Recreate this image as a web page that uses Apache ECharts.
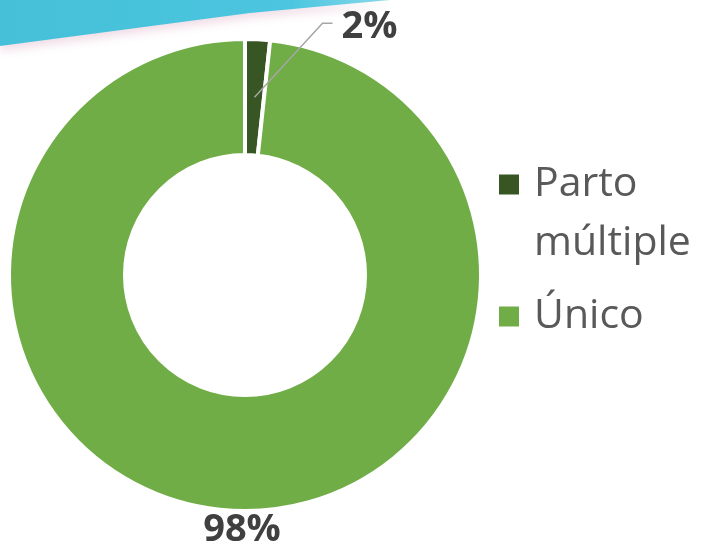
<!DOCTYPE html>
<html>
<head>
<meta charset="utf-8">
<script src="https://cdn.jsdelivr.net/npm/echarts@6/dist/echarts.min.js"></script>
<style>
  html, body { margin: 0; padding: 0; background: #fff; }
  #chart { width: 710px; height: 548px; }
</style>
</head>
<body>
<div id="chart"></div>
<script>
var categories = ['Parto múltiple', 'Único']
var values = [1.7, 98.3]
var colors = ['#375623', '#70AD47']

var chart = echarts.init(document.getElementById('chart'))

var font = '"Open Sans", "Noto Sans", sans-serif'
var cx = 245, cy = 275, r0 = 120, r1 = 236

// middle of the ring, at the middle angle of a slice
function midPoint(i) {
  var total = values.reduce(function (a, b) { return a + b }, 0)
  var before = 0
  for (var k = 0; k < i; k++) before += values[k]
  var a = (before + values[i] / 2) / total * Math.PI * 2
  var rm = (r0 + r1) / 2
  return [cx + rm * Math.sin(a), cy - rm * Math.cos(a)]
}

var labelText = {
  show: true,
  position: 'outside',
  formatter: '{d}%',
  fontFamily: font,
  fontWeight: 'bold',
  fontSize: 38,
  color: '#404040'
}

var legendText = {
  fontFamily: font,
  fontSize: 41,
  color: '#595959',
  lineHeight: 59,
  padding: [0, 0, 0, 9]
}

chart.setOption({
  backgroundColor: '#fff',
  animation: false,
  graphic: [
    {
      type: 'polygon',
      z: -1,
      shape: { points: [[0, 0], [390, 0], [250, 13], [0, 46]] },
      style: {
        fill: new echarts.graphic.LinearGradient(0, 0, 1, 0, [
          { offset: 0, color: '#45C0D8' },
          { offset: 0.75, color: '#4CC6E0' },
          { offset: 1, color: '#8AD9EA' }
        ]),
        shadowColor: 'rgba(225, 185, 205, 0.5)',
        shadowBlur: 10,
        shadowOffsetY: 5
      }
    }
  ],
  legend: [
    {
      orient: 'vertical',
      left: 497,
      top: 96,
      padding: 0,
      icon: 'rect',
      itemWidth: 22,
      itemHeight: 22,
      selectedMode: false,
      data: [categories[0]],
      // blank first line so the square sits beside "Parto"
      formatter: function (name) {
        return '\n' + name.replace(' ', '\n')
      },
      textStyle: legendText
    },
    {
      orient: 'vertical',
      left: 497,
      top: 287,
      padding: 0,
      icon: 'rect',
      itemWidth: 22,
      itemHeight: 22,
      selectedMode: false,
      data: [categories[1]],
      textStyle: legendText
    }
  ],
  series: [
    {
      type: 'pie',
      center: [cx, cy],
      radius: [r0, r1],
      startAngle: 90,
      clockwise: true,
      percentPrecision: 0,
      itemStyle: {
        borderColor: '#fff',
        borderWidth: 4
      },
      label: labelText,
      labelLine: { show: false },
      labelLayout: function (p) {
        var r = p.rect
        return {
          x: r.x + r.width / 2 - 3,
          y: r.y + r.height + 17,
          align: 'center',
          verticalAlign: 'middle'
        }
      },
      data: categories.map(function (c, i) {
        return {
          name: c,
          value: values[i],
          itemStyle: { color: colors[i] },
          label: { show: i === 1 }
        }
      })
    },
    {
      // same ring, invisible, only to carry the small slice's label above the sectors
      type: 'pie',
      z: 3,
      silent: true,
      center: [cx, cy],
      radius: [r0, r1],
      startAngle: 90,
      clockwise: true,
      percentPrecision: 0,
      emphasis: { disabled: true },
      itemStyle: { color: 'rgba(0,0,0,0)', borderWidth: 0 },
      label: labelText,
      labelLine: {
        show: true,
        length: 20,
        length2: 10,
        lineStyle: { color: '#A6A6A6', width: 1.5 }
      },
      labelLayout: function (p) {
        var s = midPoint(0)
        var elbow = [s[0] + 68, s[1] - 74]
        return {
          x: elbow[0] + 19,
          y: elbow[1] + 4,
          align: 'left',
          verticalAlign: 'middle',
          labelLinePoints: [s, elbow, [elbow[0] + 10, elbow[1]]]
        }
      },
      data: categories.map(function (c, i) {
        return {
          name: c,
          value: values[i],
          label: { show: i === 0 },
          labelLine: { show: i === 0 }
        }
      })
    }
  ]
})
</script>
</body>
</html>
